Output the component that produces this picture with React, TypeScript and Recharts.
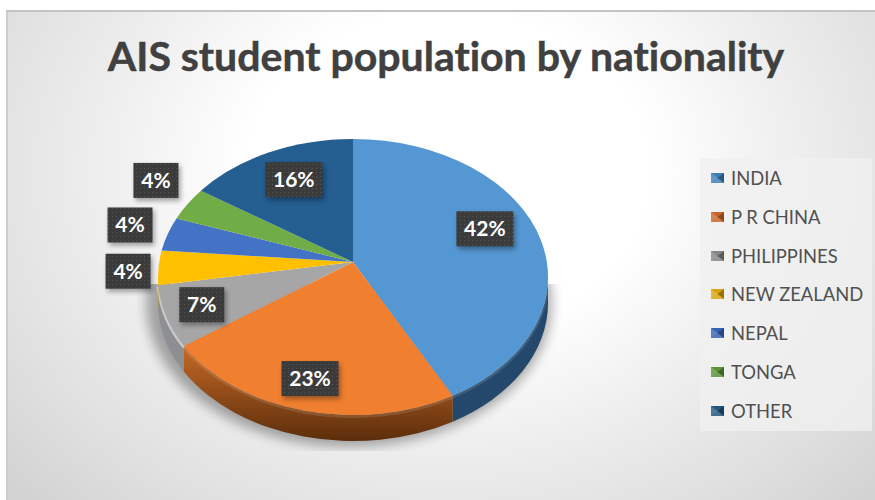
import React from 'react';
import { PieChart, Pie, Cell, Legend } from 'recharts';

const nationalities = ['INDIA', 'P R CHINA', 'PHILIPPINES', 'NEW ZEALAND', 'NEPAL', 'TONGA', 'OTHER'];
const shares = [42, 23, 7, 4, 4, 4, 16];
const faceColors = ['#5597d3', '#f07f2f', '#a6a6a6', '#ffc000', '#4472c4', '#70ad47', '#255e91'];
const wallColors = ['#24486c', '#7c3f12', '#8d8f92', '#b58a08', '#2f5597', '#4e7a30', '#1a4268'];
const iconColors = ['#3f7fb8', '#c9662a', '#858585', '#d9a40a', '#3563b3', '#5a9238', '#22557f'];
// where each value tag sits relative to its slice, in px
const tagNudges = [[-7, -12], [-7, 5], [-11, 2], [-79, 5], [-84, -16], [-73, -38], [3, 0]];

const data = nationalities.map((name, i) => ({ name, value: shares[i], fill: faceColors[i] }));

const WIDTH = 875;
const HEIGHT = 500;
const PIE_X = 353;
const PIE_Y = 262;
const RADIUS_X = 195;
const RADIUS_Y = 138;
const RIM_DROP = 15; // the rim ellipse sits lower than the apex (perspective)
const DEPTH = 26;

const rad = (deg: number) => (deg * Math.PI) / 180;

// recharts angle -> angle on the rim ellipse, clockwise from the top
function rimAngle(angle: number) {
  const theta = 90 - angle;
  return theta - (theta < 180 ? 4 : 7.5) * Math.sin(rad(theta));
}

function rimPoint(cx: number, cy: number, phi: number, drop = 0) {
  return {
    x: cx + RADIUS_X * Math.sin(rad(phi)),
    y: cy + RIM_DROP + drop - RADIUS_Y * Math.cos(rad(phi)),
  };
}

function TopFace(props: any) {
  const { cx, cy, startAngle, endAngle, fill } = props;
  const from = rimAngle(startAngle);
  const to = rimAngle(endAngle);
  const a = rimPoint(cx, cy, from);
  const b = rimPoint(cx, cy, to);
  const large = to - from > 180 ? 1 : 0;
  return (
    <path
      d={`M${cx},${cy} L${a.x},${a.y} A${RADIUS_X},${RADIUS_Y} 0 ${large} 1 ${b.x},${b.y} Z`}
      fill={fill}
    />
  );
}

// side wall, only the front half of the rim is visible
function SideWall(props: any) {
  const { cx, cy, startAngle, endAngle, index } = props;
  const from = Math.max(rimAngle(startAngle), 90);
  const to = Math.min(rimAngle(endAngle), 270);
  if (to <= from) return <g />;
  const a = rimPoint(cx, cy, from);
  const b = rimPoint(cx, cy, to);
  const c = rimPoint(cx, cy, to, DEPTH);
  const d = rimPoint(cx, cy, from, DEPTH);
  const edge = rimPoint(cx, cy, from, 1.5);
  const edgeEnd = rimPoint(cx, cy, to, 1.5);
  return (
    <g>
      <path
        d={`M${a.x},${a.y} A${RADIUS_X},${RADIUS_Y} 0 0 1 ${b.x},${b.y} L${c.x},${c.y} A${RADIUS_X},${RADIUS_Y} 0 0 0 ${d.x},${d.y} Z`}
        fill={index === 1 ? 'url(#orangeWall)' : wallColors[index]}
      />
      {/* light bevel along the top edge of the wall */}
      <path
        d={`M${edge.x},${edge.y} A${RADIUS_X},${RADIUS_Y} 0 0 1 ${edgeEnd.x},${edgeEnd.y}`}
        fill="none"
        stroke="#ffffff"
        strokeOpacity={index === 2 ? 0.5 : 0.12}
        strokeWidth={3}
      />
    </g>
  );
}

function ValueTag(props: any) {
  const { cx, cy, midAngle, index, value } = props;
  const rim = rimPoint(cx, cy, rimAngle(midAngle));
  const x = cx + 0.75 * (rim.x - cx) + tagNudges[index][0];
  const y = cy + 0.75 * (rim.y - cy) + tagNudges[index][1];
  const w = value >= 10 ? 57 : 45;
  const h = 35;
  return (
    <g>
      <rect x={x - w / 2 + 2} y={y - h / 2 + 3} width={w} height={h} fill="#000" opacity={0.35} filter="url(#tagShadow)" />
      <rect x={x - w / 2} y={y - h / 2} width={w} height={h} fill="url(#tagDots)" />
      <text x={x} y={y + 7.5} textAnchor="middle" fill="#ffffff" fontFamily="Lato, sans-serif" fontWeight={700} fontSize={21}>
        {value}%
      </text>
    </g>
  );
}

function LegendIcon({ color }: { color: string }) {
  return (
    <svg width={13} height={10} style={{ display: 'block' }}>
      <rect width={13} height={10} fill={color} />
      <path d="M0,0 L6.5,5 L0,10 Z" fill="#fff" opacity={0.2} />
      <path d="M13,0 L6.5,5 L13,10 Z" fill="#000" opacity={0.3} />
      <path d="M0,10 L6.5,5 L13,10 Z" fill="#fff" opacity={0.15} />
    </svg>
  );
}

function LegendList() {
  return (
    <div style={{ width: 172, height: 273, background: 'rgba(240,240,240,0.8)', position: 'relative' }}>
      {nationalities.map((name, i) => (
        <div
          key={name}
          style={{
            position: 'absolute',
            left: 11,
            top: 20 + i * 38.8 - 12,
            height: 24,
            display: 'flex',
            alignItems: 'center',
            gap: 7,
            whiteSpace: 'nowrap',
            color: '#505050',
            fontFamily: 'Lato, sans-serif',
            fontSize: 18.4,
          }}
        >
          <LegendIcon color={iconColors[i]} />
          {name}
        </div>
      ))}
    </div>
  );
}

export default function App() {
  return (
    <div style={{ position: 'fixed', left: 0, top: 0, width: WIDTH, height: HEIGHT, background: '#ffffff', overflow: 'hidden' }}>
      <div
        style={{
          position: 'absolute',
          left: 6,
          top: 10,
          width: WIDTH,
          height: HEIGHT,
          borderTop: '2px solid #c4c4c4',
          borderLeft: '2px solid #cccccc',
          background: 'radial-gradient(ellipse 530px 420px at 440px 160px, #ffffff 38%, #efefef 64%, #e0e0e0 90%, #d2d2d2 112%)',
        }}
      />
      <div style={{ position: 'absolute', left: 0, top: 0 }}>
        <PieChart width={WIDTH} height={HEIGHT} margin={{ top: 0, right: 0, bottom: 0, left: 0 }}>
          <defs>
            <linearGradient id="orangeWall" x1="0" y1="0" x2="0" y2="1">
              <stop offset="0%" stopColor="#c76a26" />
              <stop offset="100%" stopColor="#5c2e0c" />
            </linearGradient>
            <pattern id="tagDots" width="4" height="4" patternUnits="userSpaceOnUse">
              <rect width="4" height="4" fill="#3b3b3b" />
              <rect width="1" height="1" fill="#555555" />
            </pattern>
            <filter id="tagShadow" x="-30%" y="-30%" width="160%" height="160%">
              <feGaussianBlur stdDeviation="2.5" />
            </filter>
            <filter id="pieShadow" x="-20%" y="-20%" width="140%" height="140%">
              <feGaussianBlur stdDeviation="6" />
            </filter>
            <clipPath id="shadowClip">
              <rect x={100} y={284} width={462} height={167} />
            </clipPath>
          </defs>
          <text
            x={446}
            y={71}
            textAnchor="middle"
            fill="#404040"
            stroke="#404040"
            strokeWidth={0.5}
            fontFamily="Lato, sans-serif"
            fontWeight={700}
            fontSize={41}
            style={{ fontVariantLigatures: 'none' }}
          >
            AIS student population by nationality
          </text>
          <g clipPath="url(#shadowClip)">
            <ellipse cx={PIE_X - 4} cy={PIE_Y + RIM_DROP + DEPTH} rx={RADIUS_X + 8} ry={RADIUS_Y + 6} fill="#000" opacity={0.32} filter="url(#pieShadow)" />
          </g>
          <Pie
            data={data}
            dataKey="value"
            nameKey="name"
            cx={PIE_X}
            cy={PIE_Y}
            outerRadius={RADIUS_X}
            startAngle={90}
            endAngle={-270}
            legendType="none"
            shape={SideWall}
            stroke="none"
            isAnimationActive={false}
          />
          <Pie
            data={data}
            dataKey="value"
            nameKey="name"
            cx={PIE_X}
            cy={PIE_Y}
            outerRadius={RADIUS_X}
            startAngle={90}
            endAngle={-270}
            shape={TopFace}
            stroke="none"
            label={ValueTag}
            labelLine={false}
            isAnimationActive={false}
          >
            {data.map((entry) => (
              <Cell key={entry.name} fill={entry.fill} />
            ))}
          </Pie>
          <Legend
            content={<LegendList />}
            layout="vertical"
            wrapperStyle={{ left: 700, top: 158, width: 172, height: 273 }}
          />
        </PieChart>
      </div>
    </div>
  );
}
